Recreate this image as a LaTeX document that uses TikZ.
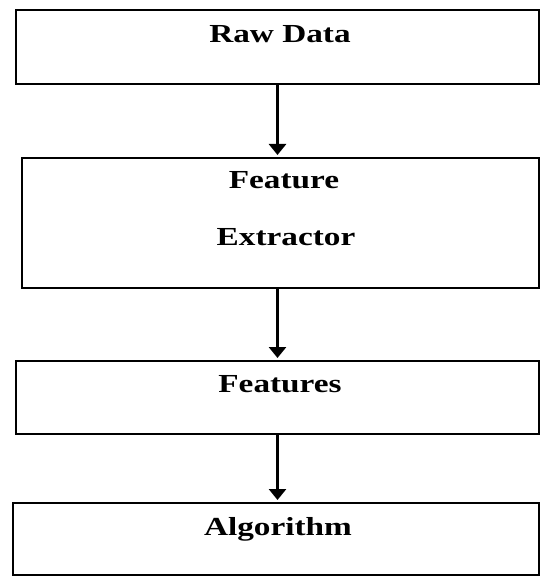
\documentclass[tikz,border=0pt]{standalone}
\usepackage{fontspec}
\setmainfont{Liberation Serif}
\usetikzlibrary{arrows.meta}
\begin{document}
\begin{tikzpicture}[x=1pt,y=-1pt,
  box/.style={draw=black, line width=1.6pt, rectangle, inner sep=0pt, outer sep=0pt},
  lbl/.style={anchor=base, inner sep=0pt, font=\fontsize{26}{30}\selectfont\bfseries},
  flow/.style={line width=3.2pt, -{Triangle[width=17pt,length=11pt]}, shorten >=3pt}
]
\useasboundingbox (0,0) rectangle (540,577);
\node[box, minimum width=523pt, minimum height=74pt] (b1) at (277.5,47) {};
\node[box, minimum width=517pt, minimum height=130pt] (b2) at (280.5,223) {};
\node[box, minimum width=523pt, minimum height=73pt] (b3) at (277.5,397.5) {};
\node[box, minimum width=526pt, minimum height=72pt] (b4) at (276,539) {};
\node[lbl] (t1) at (280,43) {\scalebox{1.28}[1]{Raw Data}};
\node[lbl] (t2a) at (284,189) {\scalebox{1.28}[1]{Feature}};
\node[lbl] (t2b) at (286,245) {\scalebox{1.28}[1]{Extractor}};
\node[lbl] (t3) at (280,392) {\scalebox{1.28}[1]{Features}};
\node[lbl] (t4) at (278,535) {\scalebox{1.28}[1]{Algorithm}};
\draw[flow] (b1.south) -- (b1.south |- b2.north);
\draw[flow] (b1.south |- b2.south) -- (b1.south |- b3.north);
\draw[flow] (b3.south) -- (b3.south |- b4.north);
\end{tikzpicture}
\end{document}
